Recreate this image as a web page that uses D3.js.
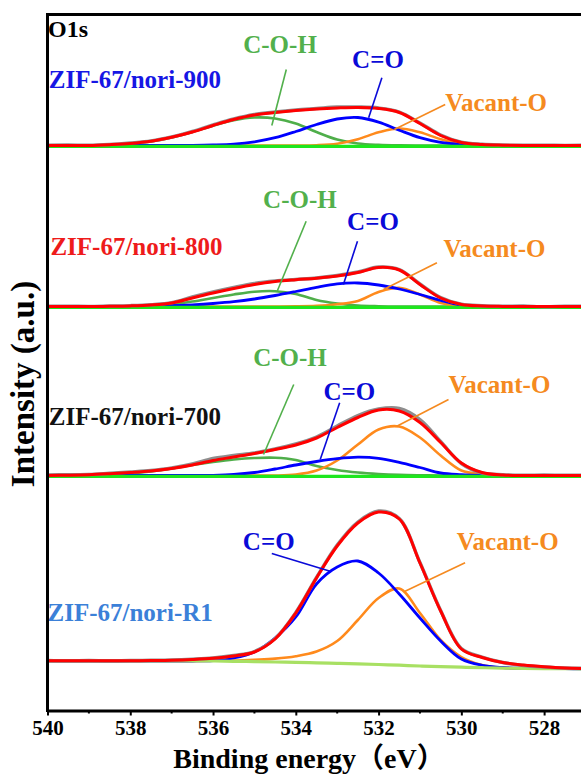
<!DOCTYPE html>
<html><head><meta charset="utf-8">
<script src="https://cdn.jsdelivr.net/npm/d3@7"></script>
<style>body{margin:0;background:#fff}svg{display:block}</style>
</head><body>
<svg id="chart" width="581" height="775"></svg>
<script>
// ---------- DATA ----------
const energies = [540,539.5,539,538.5,538,537.5,537,536.5,536,535.5,535,534.5,534,533.5,533,532.5,532,531.5,531,530.5,530,529.5,529,528.5,528,527.5,527];
const xTicks = [540,538,536,534,532,530,528];
const xMinorTicks = [539,537,535,533,531,529];
const sampleNames = ["ZIF-67/nori-900","ZIF-67/nori-800","ZIF-67/nori-700","ZIF-67/nori-R1"];
const componentNames = ["C-O-H","C=O","Vacant-O"];
const panelOffsets = [565,404,235,49.5];

// ZIF-67/nori-900
const raw900 = [0.3,0.5,0.2,1,2.5,4.5,8.5,14,20.5,26.5,31,33.5,35.5,37,38.5,38.5,37.5,33.5,22.5,10.5,3.3,1.2,0.5,0.2,0.4,0.1,0.3];
const fit900 = [0,0,0,0.8,2,4.2,8.2,13.5,20,26,30.5,33,35,36.5,37.5,38,37,33,22,10,3,1,0.3,0,0,0,0];
const coh900 = [0,0,0.2,0.7,1.8,4,8,13.5,19.8,25.3,28,27,22,13.5,6,2,0.6,0.1,0,0,0,0,0,0,0,0,0];
const co900  = [0,0,0,0,0,0,0,0.1,0.5,1.4,3.7,7.8,14,21,26.5,28,23.4,15.3,7.8,3.1,1,0.2,0,0,0,0,0];
const vac900 = [0,0,0,0,0,0,0,0,0,0,0,0,0,0.3,1.8,6.3,13.2,17,13.2,6.3,1.8,0.3,0,0,0,0,0];
const bg900  = [-0.8,-0.8,-0.8,-0.8,-0.8,-0.8,-0.8,-0.8,-0.8,-0.8,-0.8,-0.8,-0.8,-0.8,-0.8,-0.8,-0.8,-0.8,-0.8,-0.8,-0.8,-0.8,-0.8,-0.8,-0.8,-0.8,-0.8];

// ZIF-67/nori-800
const raw800 = [0.2,0.4,0.1,0.5,0.9,1.8,3.8,9.5,14.5,19,23,25.5,27,28.5,31,34.5,39.5,37,22.5,9,2.3,0.8,0.3,0.5,-0.3,0.2,0.3];
const fit800 = [0,0,0,0.2,0.6,1.5,3.5,8.5,13.5,18,22,25,26.8,28.3,30.5,34,39,36.5,22,8.5,2,0.5,0.1,0,0,0,0];
const coh800 = [0,0,0,0,0.2,0.8,2.2,5,8.5,12,14.8,15.3,12.5,6.5,3,1,0.3,0,0,0,0,0,0,0,0,0,0];
const co800  = [0,0,0,0,0,0.3,0.8,1.7,3,4.8,7.5,11,15,19.2,22.6,23.5,21.5,17.5,12,6,1.2,0.2,0,0,0,0,0];
const vac800 = [0,0,0,0,0,0,0,0,0,0,0,0,0.1,0.6,2.2,5.5,14.5,18.7,12,3.6,0.6,0,0,0,0,0,0];
const bg800  = [-0.8,-0.8,-0.8,-0.8,-0.8,-0.8,-0.8,-0.8,-0.8,-0.8,-0.8,-0.8,-0.8,-0.8,-0.8,-0.8,-0.8,-0.8,-0.8,-0.8,-0.8,-0.8,-0.8,-0.8,-0.8,-0.8,-0.8];

// ZIF-67/nori-700
const raw700 = [0.5,0.8,1,2.2,3.5,5,7.5,11.5,17,20,22.5,26.5,31.5,38.5,49.5,60,66.5,67,56,34,12,2.5,0.8,0.3,0.5,0.2,0.3];
const fit700 = [0,0.3,0.8,1.8,3,4.5,7,10.5,15,18.5,22,26,30.5,37.5,48,58,65.5,64.5,53,33,12.5,3,0.5,0,0,0,0];
const coh700 = [0,0,0.2,0.8,2,4,7,10.5,13.5,16,17.5,17.8,15.5,9.5,5.5,3,1.5,0.6,0.2,0,0,0,0,0,0,0,0];
const co700  = [0,0,0,0,0,0,0,0,0.2,1,3,6.5,10.5,14,16.8,18.3,17.2,13.2,8,2.5,0.8,0.1,0,0,0,0,0];
const vac700 = [0,0,0,0,0,0,0,0,0,0,0,0,1,5,15,31,46,49,38,20,5,1.3,0.2,0,0,0,0];
const bg700  = [-0.8,-0.8,-0.8,-0.8,-0.8,-0.8,-0.8,-0.8,-0.8,-0.8,-0.8,-0.8,-0.8,-0.8,-0.8,-0.8,-0.8,-0.8,-0.8,-0.8,-0.8,-0.8,-0.8,-0.8,-0.8,-0.8,-0.8];

// ZIF-67/nori-R1
const rawR1 = [0.6,0.1,0.5,0,0.6,0.7,1,1.8,3,5.5,9.5,22.5,48.5,83.5,116,139,150,142.5,98.5,50.5,12.5,4,-1.5,-4.5,-6,-7,-7.2];
const fitR1 = [0.3,0.3,0.2,0.2,0.3,0.5,0.8,1.5,2.7,5,9,22,48,83,115,138,149,142,98,50,12,3.5,-1.5,-4,-5.7,-6.9,-7.5];
const cohR1 = null;
const coR1  = [0,0,0,0,0,0,0,0,0.5,3,9,23,44,77,94,100,88,67,43,20,2,-4.3,-6.5,-7.3,-7.6,-7.7,-7.8];
const vacR1 = [0,0,0,0,0,0,0,0,0.2,0.5,1.3,2.4,4.8,9.5,20,41,63,72.5,48,21,4,-4,-6.8,-7.3,-7.6,-7.7,-7.8];
const bgR1  = [0,0,0,0,0,0,0,0,0,-0.3,-0.6,-1,-1.4,-1.8,-2.3,-2.9,-3.5,-4.2,-5,-5.6,-6.2,-6.7,-7.2,-7.4,-7.6,-7.7,-7.8];

// ---------- LAYOUT / STYLE ----------
const W = 581, H = 775;
const plot = {left: 47.5, top: 14.5, bottom: 710.5, right: 585.5};
const colors = {raw:"#8e8e8e", fit:"#ff0000", coh:"#4fae4a", co:"#0000ff", vac:"#ff8a1c", bg:"#1ee61e", bgR1:"#a8e063"};
const sampleColors = ["#1616e4","#ee1b1b","#111111","#3b80d8"];
const annColors = {"C-O-H":"#52b04c","C=O":"#0a0ad8","Vacant-O":"#f58a20"};
const serif = "'Liberation Serif','Times New Roman',serif";

// annotation positions in data units: energy (eV), intensity above the panel baseline
const sampleLabelPos = [[539.97,58],[539.93,52],[539.97,51],[540,39.8]];
const annotations = [
  {p:0, t:"C-O-H", e:535.27, v:93, line:[[534.23,76],[534.58,20]]},
  {p:0, t:"C=O", e:532.64, v:78, line:[[531.92,67.7],[532.24,27.7]]},
  {p:0, t:"Vacant-O", e:530.39, v:34.3, line:[[530.39,41],[531.62,16]]},
  {p:1, t:"C-O-H", e:534.79, v:99, line:[[533.75,85.3],[534.45,15.3]]},
  {p:1, t:"C=O", e:532.76, v:77, line:[[532.51,65.3],[532.85,22]]},
  {p:1, t:"Vacant-O", e:530.43, v:50, line:[[530.59,43.7],[531.88,17]]},
  {p:2, t:"C-O-H", e:535.03, v:109.3, line:[[534.05,91],[534.78,21]]},
  {p:2, t:"C=O", e:533.33, v:76, line:[[532.94,72.7],[533.41,16]]},
  {p:2, t:"Vacant-O", e:530.31, v:82.7, line:[[530.31,76],[531.56,49.3]]},
  {p:3, t:"C=O", e:535.28, v:111.5, line:[[534.58,107.5],[533.17,89.8]]},
  {p:3, t:"Vacant-O", e:530.11, v:110.8, line:[[529.91,98.2],[531.36,69.8]]}
];

const panels = [
  {raw:raw900, fit:fit900, coh:coh900, co:co900, vac:vac900, bg:bg900, bgColor:colors.bg},
  {raw:raw800, fit:fit800, coh:coh800, co:co800, vac:vac800, bg:bg800, bgColor:colors.bg},
  {raw:raw700, fit:fit700, coh:coh700, co:co700, vac:vac700, bg:bg700, bgColor:colors.bg},
  {raw:rawR1, fit:fitR1, coh:cohR1, co:coR1, vac:vacR1, bg:bgR1, bgColor:colors.bgR1}
];

// ---------- SCALES ----------
const x = d3.scaleLinear().domain([540, 527]).range([plot.left, plot.right]);
const y = d3.scaleLinear().domain([0, 696]).range([plot.bottom, plot.top]);

const svg = d3.select("#chart");
svg.append("rect").attr("width", W).attr("height", H).attr("fill", "#fff");

svg.append("defs").append("clipPath").attr("id","clip")
  .append("rect").attr("x", plot.left).attr("y", plot.top).attr("width", plot.right - plot.left).attr("height", plot.bottom - plot.top);

const g = svg.append("g").attr("clip-path","url(#clip)");

panels.forEach((pd, i) => {
  const off = panelOffsets[i];
  const line = d3.line()
    .x((d, k) => x(energies[k]))
    .y(d => y(d + off))
    .curve(d3.curveCatmullRom.alpha(0.5));
  const draw = (arr, color, w) => {
    if (!arr) return;
    g.append("path").datum(arr).attr("d", line)
      .attr("fill","none").attr("stroke", color).attr("stroke-width", w)
      .attr("stroke-linejoin","round").attr("stroke-linecap","round");
  };
  draw(pd.coh, colors.coh, 2.6);
  draw(pd.vac, colors.vac, 2.6);
  draw(pd.co, colors.co, 2.8);
  draw(pd.bg, pd.bgColor, 3.2);
  draw(pd.raw, colors.raw, 3.4);
  draw(pd.fit, colors.fit, 3);
});

// annotation leader lines and labels
annotations.forEach(a => {
  const off = panelOffsets[a.p];
  svg.append("line")
    .attr("x1", x(a.line[0][0])).attr("y1", y(a.line[0][1] + off))
    .attr("x2", x(a.line[1][0])).attr("y2", y(a.line[1][1] + off))
    .attr("stroke", annColors[a.t]).attr("stroke-width", 1.6);
  svg.append("text")
    .attr("x", x(a.e)).attr("y", y(a.v + off))
    .attr("font-family", serif).attr("font-weight","bold").attr("font-size", 25)
    .attr("fill", annColors[a.t]).text(a.t);
});

// sample names
sampleNames.forEach((s, i) => {
  svg.append("text")
    .attr("x", x(sampleLabelPos[i][0])).attr("y", y(sampleLabelPos[i][1] + panelOffsets[i]))
    .attr("font-family", serif).attr("font-weight","bold").attr("font-size", 25)
    .attr("fill", sampleColors[i]).text(s);
});

// O1s
svg.append("text").attr("x", plot.left + 0.5).attr("y", 37)
  .attr("font-family", serif).attr("font-weight","bold").attr("font-size", 24)
  .attr("fill","#000").text("O1s");

// frame: left, top
svg.append("line").attr("x1", plot.left).attr("x2", plot.left).attr("y1", plot.top - 1.5).attr("y2", plot.bottom + 1.5)
  .attr("stroke","#000").attr("stroke-width",3);
svg.append("line").attr("x1", plot.left).attr("x2", plot.right).attr("y1", plot.top).attr("y2", plot.top)
  .attr("stroke","#000").attr("stroke-width",3);

// x axis
const xAxis = d3.axisBottom(x).tickValues(xTicks).tickSize(5).tickSizeOuter(0).tickPadding(4).tickFormat(d3.format("d"));
const ax = svg.append("g").attr("transform", `translate(0,${plot.bottom})`).call(xAxis);
ax.select(".domain").attr("stroke","#000").attr("stroke-width",3.2);
ax.selectAll(".tick line").attr("stroke","#000").attr("stroke-width",2);
ax.selectAll(".tick text").attr("font-family", serif).attr("font-weight","bold").attr("font-size",21).attr("fill","#000").attr("dy","0.75em");
ax.selectAll(".minor").data(xMinorTicks).enter().append("line").attr("class","minor")
  .attr("x1", d => x(d)).attr("x2", d => x(d)).attr("y1", 0).attr("y2", 3)
  .attr("stroke","#000").attr("stroke-width",2);

// axis titles
svg.append("text").attr("x", 309).attr("y", 768).attr("text-anchor","middle")
  .attr("font-family", serif + ",'Noto Sans CJK SC'").attr("font-weight","bold").attr("font-size",28)
  .attr("fill","#000").text("Binding energy（eV）");
svg.append("text").attr("transform","translate(33.5,384) rotate(-90)").attr("text-anchor","middle")
  .attr("font-family", serif).attr("font-weight","bold").attr("font-size",33)
  .attr("fill","#000").text("Intensity (a.u.)");
</script>
</body></html>
